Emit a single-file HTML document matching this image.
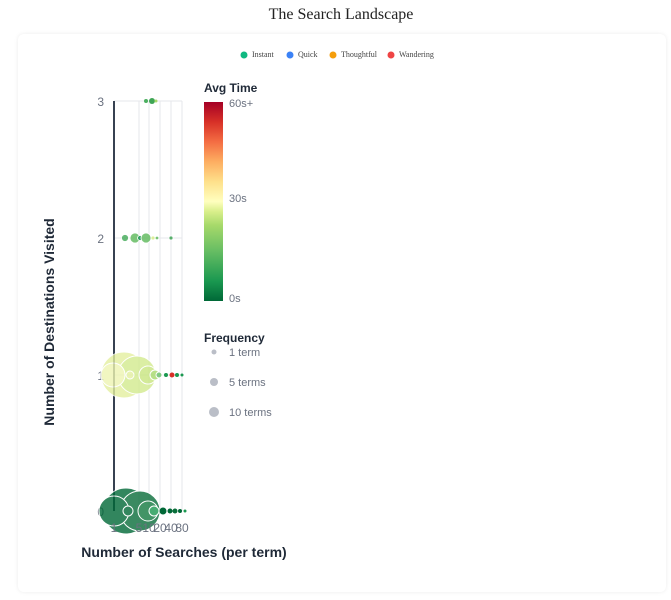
<!DOCTYPE html>
<html><head><style>
body{margin:0;background:#fff;width:671px;height:600px;overflow:hidden;}
.card{position:absolute;left:18px;top:34px;width:648px;height:558px;background:#fff;border-radius:6px;box-shadow:0 0 4px rgba(0,0,0,0.08);}
svg{position:absolute;left:0;top:0;}
</style></head><body>
<div class="card"></div>
<svg width="671" height="600" font-family="Liberation Sans, sans-serif">
<defs>
<linearGradient id="cb" x1="0" y1="1" x2="0" y2="0">
<stop offset="0" stop-color="#006837"/><stop offset="0.1" stop-color="#1a9850"/><stop offset="0.25" stop-color="#66bd63"/><stop offset="0.38" stop-color="#a6d96a"/><stop offset="0.45" stop-color="#d9ef8b"/><stop offset="0.5" stop-color="#ffffbf"/><stop offset="0.6" stop-color="#fee08b"/><stop offset="0.7" stop-color="#fdae61"/><stop offset="0.8" stop-color="#f46d43"/><stop offset="0.9" stop-color="#d73027"/><stop offset="1" stop-color="#a50026"/>
</linearGradient>
</defs>
<text x="341" y="19" text-anchor="middle" font-family="Liberation Serif, serif" font-size="16" fill="#222">The Search Landscape</text>
<g font-family="Liberation Serif, serif" font-size="8" fill="#444">
<circle cx="244" cy="55" r="3.5" fill="#10b981"/><text x="252" y="57">Instant</text>
<circle cx="290" cy="55" r="3.5" fill="#3b82f6"/><text x="298" y="57">Quick</text>
<circle cx="333" cy="55" r="3.5" fill="#f59e0b"/><text x="341" y="57">Thoughtful</text>
<circle cx="391" cy="55" r="3.5" fill="#ef4444"/><text x="399" y="57">Wandering</text>
</g>
<g stroke="#e5e7eb" stroke-width="1">
<line x1="139" y1="101" x2="139" y2="511"/><line x1="149" y1="101" x2="149" y2="511"/><line x1="160" y1="101" x2="160" y2="511"/><line x1="171" y1="101" x2="171" y2="511"/><line x1="182" y1="101" x2="182" y2="511"/>
<line x1="114" y1="101" x2="182" y2="101"/><line x1="114" y1="238" x2="182" y2="238"/><line x1="114" y1="375" x2="182" y2="375"/>
</g>
<line x1="114" y1="101" x2="114" y2="511" stroke="#374151" stroke-width="2"/>
<g font-size="12" fill="#6b7280" text-anchor="end">
<text x="104" y="106">3</text><text x="104" y="243">2</text><text x="104" y="380">1</text><text x="104" y="516">0</text>
</g>
<circle cx="146" cy="101" r="2" fill="#4caf60"/><circle cx="152" cy="101" r="3" fill="#3fa555"/><circle cx="156" cy="101" r="1.5" fill="#a6d96a"/>
<g stroke="#fff" stroke-width="0.8" opacity="0.85">
<circle cx="125" cy="238" r="3.5" fill="#4caf60"/><circle cx="135" cy="238" r="5" fill="#66bd63"/><circle cx="140" cy="238" r="2.5" fill="#1a9850"/><circle cx="146" cy="238" r="5" fill="#66bd63"/><circle cx="153" cy="238" r="2" fill="#d9ef8b"/><circle cx="157" cy="238" r="1.8" fill="#66bd63"/><circle cx="171" cy="238" r="2" fill="#3fa555"/>
</g>
<g stroke="#fff" stroke-width="1" opacity="0.8">
<circle cx="124" cy="375" r="23" fill="#e4f0a0"/><circle cx="137" cy="375" r="19" fill="#d3ea8e"/><circle cx="148" cy="375" r="9" fill="#c9e57f"/><circle cx="155" cy="375" r="5" fill="#a6d96a"/><circle cx="159" cy="375" r="3" fill="#66bd63"/><circle cx="113" cy="375" r="12" fill="#eef5b2"/><circle cx="130" cy="375" r="4" fill="#e4f0a0"/>
</g>
<circle cx="166" cy="375" r="2" fill="#1a9850"/><circle cx="172" cy="375" r="2.5" fill="#d73027"/><circle cx="177" cy="375" r="2" fill="#1a9850"/><circle cx="182" cy="375" r="1.5" fill="#1a9850"/>
<g stroke="#fff" stroke-width="1" opacity="0.8">
<circle cx="126" cy="511" r="23" fill="#006837"/><circle cx="140" cy="511" r="20" fill="#0a6e3a"/><circle cx="148" cy="511" r="10" fill="#137a40"/><circle cx="154" cy="511" r="5" fill="#1a9850"/><circle cx="114" cy="511" r="15" fill="#006837"/><circle cx="128" cy="511" r="5" fill="#006837"/>
</g>
<circle cx="163" cy="511" r="3.5" fill="#006837"/><circle cx="170" cy="511" r="2.5" fill="#006837"/><circle cx="175" cy="511" r="2.5" fill="#0a6e3a"/><circle cx="180" cy="511" r="2" fill="#006837"/><circle cx="185" cy="511" r="1.5" fill="#1a9850"/>
<g font-size="12" fill="#6b7280" text-anchor="middle">
<text x="114" y="532">1</text><text x="139" y="532">5</text><text x="149" y="532">10</text><text x="160" y="532">20</text><text x="171" y="532">40</text><text x="182" y="532">80</text>
</g>
<text x="184" y="557" text-anchor="middle" font-size="14" font-weight="bold" fill="#1f2937">Number of Searches (per term)</text>
<text transform="translate(54,322) rotate(-90)" text-anchor="middle" font-size="14" font-weight="bold" fill="#1f2937">Number of Destinations Visited</text>
<text x="204" y="92" font-size="12" font-weight="bold" fill="#1f2937">Avg Time</text>
<rect x="204" y="102" width="19" height="199" fill="url(#cb)"/>
<g font-size="11" fill="#6b7280">
<text x="229" y="107">60s+</text><text x="229" y="202">30s</text><text x="229" y="302">0s</text>
</g>
<text x="204" y="342" font-size="12" font-weight="bold" fill="#1f2937">Frequency</text>
<circle cx="214" cy="352" r="2.5" fill="#9ca3af" opacity="0.7"/><text x="229" y="356" font-size="11" fill="#6b7280">1 term</text>
<circle cx="214" cy="382" r="4" fill="#9ca3af" opacity="0.7"/><text x="229" y="386" font-size="11" fill="#6b7280">5 terms</text>
<circle cx="214" cy="412" r="5" fill="#9ca3af" opacity="0.7"/><text x="229" y="416" font-size="11" fill="#6b7280">10 terms</text>
</svg>
</body></html>
